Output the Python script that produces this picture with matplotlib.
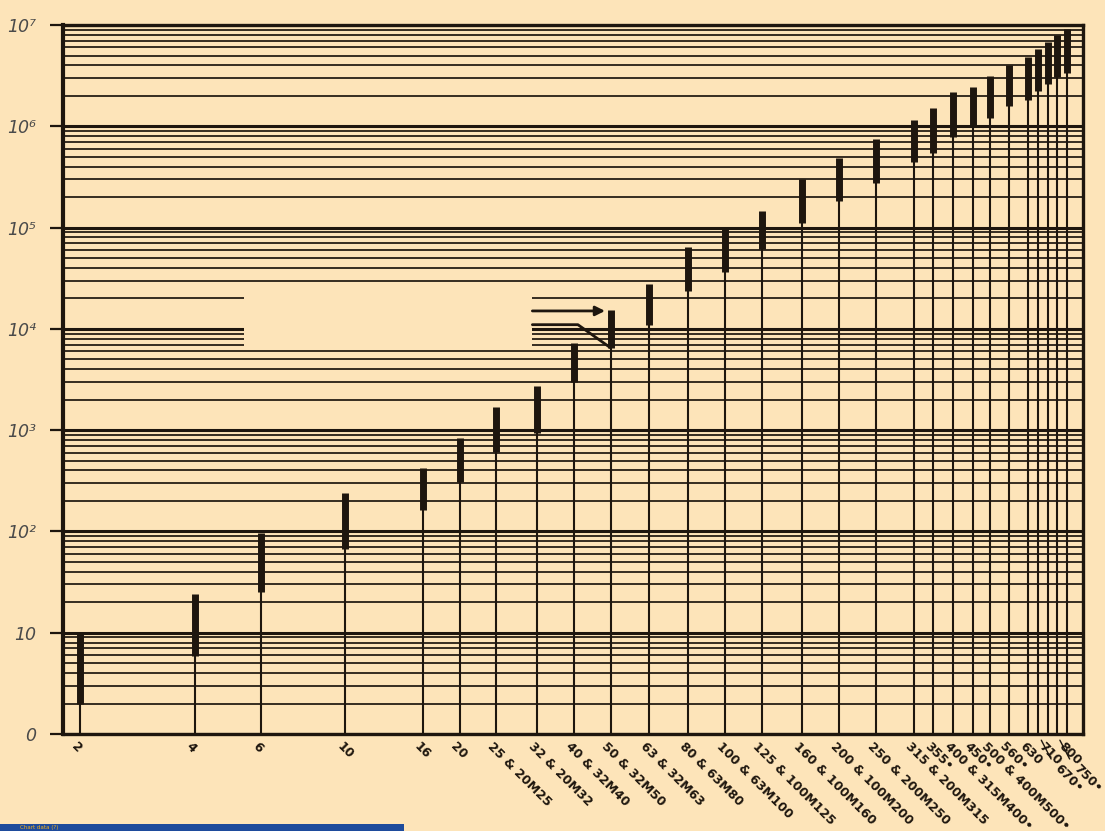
import matplotlib
matplotlib.use('Agg')
import matplotlib.pyplot as plt
import numpy as np
from matplotlib.patches import Rectangle
from matplotlib.ticker import LogLocator, FixedLocator, NullFormatter

BG = '#fde4b9'
INK = '#1e160e'

# fuse ratings (A) and the I2t band (min pre-arcing .. max total)
ratings = [2, 4, 6, 10, 16, 20, 25, 32, 40, 50, 63, 80, 100, 125, 160, 200,
           250, 315, 355, 400, 450, 500, 560, 630, 670, 710, 750, 800]
i2t_min = [2.0, 5.9, 25, 67, 163, 310, 610, 940, 3000, 6500, 10900, 23600,
           36500, 61000, 110000, 183000, 275000, 443000, 543000, 782000,
           982000, 1200000, 1580000, 1820000, 2230000, 2610000, 3060000, 3350000]
i2t_max = [10, 24, 96, 240, 420, 840, 1700, 2700, 7200, 15500, 27700, 64000,
           98000, 146000, 300000, 486000, 750000, 1150000, 1510000, 2180000,
           2440000, 3130000, 4020000, 4820000, 5780000, 6780000, 7940000, 9100000]
rating_labels = ['2', '4', '6', '10', '16', '20', '25 & 20M25', '32 & 20M32',
                 '40 & 32M40', '50 & 32M50', '63 & 32M63', '80 & 63M80',
                 '100 & 63M100', '125 & 100M125', '160 & 100M160', '200 & 100M200',
                 '250 & 200M250', '315 & 200M315', '355•', '400 & 315M400•', '450•',
                 '500 & 400M500•', '560•', '630', '670•', '710', '750•', '800']
leader_ratings = [670, 750]

decade_ticks = [1, 10, 1e2, 1e3, 1e4, 1e5, 1e6, 1e7]
decade_labels = ['0', '10', '10²', '10³', '10⁴', '10⁵', '10⁶', '10⁷']

# blanked-out window in the original scan
gap_x = [5.4, 31.1]
gap_y = [6500, 23000]

fig = plt.figure(figsize=(11.05, 8.31), dpi=100, facecolor=BG)
ax = fig.add_axes([0.057, 0.1167, 0.9231, 0.8532], facecolor=BG)
ax.set_xscale('log')
ax.set_yscale('log')
ax.set_xlim(1.8, 880)
ax.set_ylim(1, 1e7)

ax.yaxis.set_major_locator(FixedLocator(decade_ticks))
ax.set_yticks(decade_ticks, decade_labels)
ax.yaxis.set_minor_locator(LogLocator(base=10, subs=np.arange(2, 10), numticks=50))
ax.yaxis.set_minor_formatter(NullFormatter())
ax.set_xticks([])
ax.set_xticks([], minor=True)

ax.set_axisbelow(True)
ax.grid(axis='y', which='major', color=INK, lw=2.2)
ax.grid(axis='y', which='minor', color=INK, lw=1.25)
ax.tick_params(axis='y', which='major', length=9.5, width=1.6, direction='out',
               pad=10, labelsize=12.5, labelcolor='#4a4a4a', color=INK)
ax.tick_params(axis='y', which='minor', length=0)
for lab in ax.get_yticklabels():
    lab.set_fontstyle('italic')

for name, s in ax.spines.items():
    s.set_color(INK)
    s.set_linewidth(3.0 if name == 'left' else 2.4)

ax.add_patch(Rectangle((gap_x[0], gap_y[0]), gap_x[1] - gap_x[0], gap_y[1] - gap_y[0],
                       facecolor=BG, edgecolor='none', zorder=1))

ax.vlines(ratings, 1, i2t_min, color=INK, lw=1.5, zorder=2)
ax.vlines(ratings, i2t_min, i2t_max, color=INK, lw=5, zorder=3)

# leader lines to the 50 A band
i50 = ratings.index(50)
ax.annotate('', xy=(ratings[i50], i2t_max[i50] * 0.97), xytext=(gap_x[1], i2t_max[i50] * 0.97),
            arrowprops=dict(arrowstyle='-|>', color=INK, lw=2, shrinkA=0, shrinkB=4,
                            mutation_scale=14), zorder=4)
ax.plot([gap_x[1], 41, ratings[i50]], [11000, 11000, i2t_min[i50]],
        color=INK, lw=2, zorder=4, solid_capstyle='round')

for r, lab in zip(ratings, rating_labels):
    if r in leader_ratings:
        ax.annotate(lab, xy=(r, 0), xycoords=('data', 'axes fraction'),
                    xytext=(17, -20), textcoords='offset points',
                    rotation=-45, ha='left', va='top', rotation_mode='anchor',
                    fontsize=9, fontweight='bold', color=INK,
                    arrowprops=dict(arrowstyle='-', color=INK, lw=1,
                                    shrinkA=0, shrinkB=5, relpos=(0, 1)))
    else:
        ax.annotate(lab, xy=(r, 0), xycoords=('data', 'axes fraction'),
                    xytext=(-1.5, -4), textcoords='offset points',
                    rotation=-45, ha='left', va='top', rotation_mode='anchor',
                    fontsize=9, fontweight='bold', color=INK)

# caption strip at the bottom edge
fig.patches.append(Rectangle((0, 0), 404 / 1105, 7 / 831, transform=fig.transFigure,
                             facecolor='#1e4b9c', edgecolor='none'))
fig.text(20 / 1105, 1 / 831, 'Chart data (?)', color='#f2b01e', fontsize=4,
         va='bottom', ha='left')

fig.savefig('out.png', dpi=100, facecolor=BG)
